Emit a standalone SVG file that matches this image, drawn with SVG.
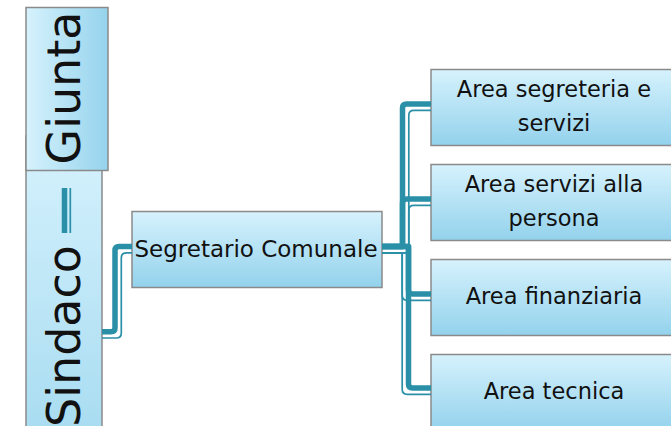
<svg xmlns="http://www.w3.org/2000/svg" width="671" height="426" viewBox="0 0 671 426">
<defs>
<linearGradient id="gv" x1="0" y1="0" x2="0" y2="1">
<stop offset="0" stop-color="#d6f2fd"/>
<stop offset="1" stop-color="#93d2ec"/>
</linearGradient>
<linearGradient id="gh" x1="0" y1="0" x2="1" y2="0">
<stop offset="0" stop-color="#d6f2fd"/>
<stop offset="1" stop-color="#95d3ec"/>
</linearGradient>
<linearGradient id="gs" x1="0" y1="0" x2="0" y2="1">
<stop offset="0" stop-color="#d6f2fd"/>
<stop offset="1" stop-color="#a8dcf1"/>
</linearGradient>
</defs>
<style>
.box{stroke:#8a8a8a;stroke-width:1.5}
.t{font-family:"DejaVu Sans",sans-serif;fill:#111}
.thick{fill:none;stroke:#2a90a8;stroke-width:5.5;stroke-linejoin:round}
.thin{fill:none;stroke:#2a90a8;stroke-width:1.7;stroke-linejoin:round}
</style>
<rect width="671" height="426" fill="#ffffff"/>
<g id="sindaco">
<rect class="box" x="26" y="136" width="76" height="300" fill="url(#gs)"/>
<text class="t" font-size="46" transform="translate(80,427) rotate(-90)">Sindaco</text>
</g>
<g id="giunta">
<rect class="box" x="26" y="7.5" width="82" height="163" fill="url(#gh)"/>
<text class="t" font-size="46" text-anchor="middle" transform="translate(80,88) rotate(-90)">Giunta</text>
</g>
<g id="segretario">
<rect class="box" x="132" y="211.5" width="250" height="76" fill="url(#gv)"/>
<text class="t" font-size="23" x="256" y="257" text-anchor="middle">Segretario Comunale</text>
</g>
<g id="area1">
<rect class="box" x="431" y="69.5" width="250" height="76" fill="url(#gv)"/>
<text class="t" font-size="22.5" x="554" y="97" text-anchor="middle">Area segreteria e</text>
<text class="t" font-size="22.5" x="554" y="131" text-anchor="middle">servizi</text>
</g>
<g id="area2">
<rect class="box" x="431" y="164.5" width="250" height="76" fill="url(#gv)"/>
<text class="t" font-size="22.5" x="554" y="192" text-anchor="middle">Area servizi alla</text>
<text class="t" font-size="22.5" x="554" y="225.5" text-anchor="middle">persona</text>
</g>
<g id="area3">
<rect class="box" x="431" y="259.5" width="250" height="76" fill="url(#gv)"/>
<text class="t" font-size="22.5" x="554" y="303.5" text-anchor="middle">Area finanziaria</text>
</g>
<g id="area4">
<rect class="box" x="431" y="354.5" width="250" height="76" fill="url(#gv)"/>
<text class="t" font-size="22.5" x="554" y="398.5" text-anchor="middle">Area tecnica</text>
</g>
<g id="connectors">
<path class="thick" d="M64.5,233 V188"/>
<path class="thin" d="M70.3,233 V188"/>
<path class="thick" d="M102,331.7 H111 Q115,331.7 115,327.7 V250.5 Q115,246.5 119,246.5 H132"/>
<path class="thin" d="M102,338 H116.3 Q121.3,338 121.3,333 V257.8 Q121.3,252.8 126.3,252.8 H132"/>
<path class="thick" d="M382,246.5 H402.5 V108 Q402.5,104 406.5,104 H431"/>
<path class="thin" d="M382,252.8 H408.8 V115.3 Q408.8,110.3 413.8,110.3 H431"/>
<path class="thick" d="M382,246.5 H402.5 V203 Q402.5,199 406.5,199 H431"/>
<path class="thin" d="M382,252.8 H408.8 V210.3 Q408.8,205.3 413.8,205.3 H431"/>
<path class="thick" d="M382,246.5 H408.5 V290 Q408.5,294 412.5,294 H431"/>
<path class="thin" d="M382,252.8 H402.2 V295.3 Q402.2,300.3 407.2,300.3 H431"/>
<path class="thick" d="M382,246.5 H408.5 V384 Q408.5,388 412.5,388 H431"/>
<path class="thin" d="M382,252.8 H402.2 V389.3 Q402.2,394.3 407.2,394.3 H431"/>
</g>
</svg>
